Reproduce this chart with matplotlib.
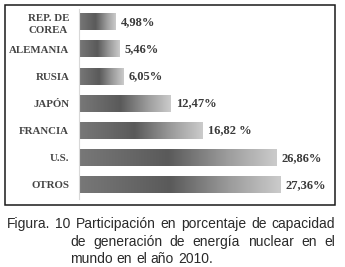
import matplotlib.pyplot as plt
import numpy as np
from matplotlib.colors import LinearSegmentedColormap
from matplotlib.patches import Rectangle

# Data (top to bottom)
countries = ['REP. DE\nCOREA', 'ALEMANIA', 'RUSIA', 'JAPÓN', 'FRANCIA', 'U.S.', 'OTROS']
shares = [4.98, 5.46, 6.05, 12.47, 16.82, 26.86, 27.36]
share_labels = ['4,98%', '5,46%', '6,05%', '12,47%', '16,82 %', '26,86%', '27,36%']

caption_lines = ['Figura. 10 Participación en porcentaje de capacidad',
                 'de generación de energía nuclear en el',
                 'mundo en el año 2010.']

W, H = 345, 267
fig = plt.figure(figsize=(W / 100, H / 100), dpi=100)

# axes placed in pixel terms of the reference
ax = fig.add_axes([79 / W, 1 - 198.5 / H, 256 / W, 190 / H])

# gray metallic gradient for bars
cmap = LinearSegmentedColormap.from_list(
    'bar', [(0, '#787878'), (0.45, '#5a5a5a'), (0.75, '#9c9c9c'), (1, '#cbcbcb')])
grad = np.linspace(0, 1, 256).reshape(1, -1)

ypos = np.arange(len(countries))
bar_h = 0.6
for y, v, lab in zip(ypos, shares, share_labels):
    ax.imshow(grad, cmap=cmap, aspect='auto', interpolation='bilinear',
              extent=(0, v, y + bar_h / 2, y - bar_h / 2), zorder=2)
    ax.annotate(lab, xy=(v, y), xytext=(4, 0), textcoords='offset points',
                ha='left', va='center', fontsize=9, fontweight='bold',
                family='Liberation Serif', color='#3a3a3a')

ax.set_xlim(0, 256 / 7.35)
ax.set_ylim(len(countries) - 0.5, -0.5)
ax.set_yticks(ypos)
ax.set_yticklabels(countries, fontsize=7.8, fontweight='bold',
                   family='Liberation Serif', color='#444444', linespacing=1.35)
ax.tick_params(axis='y', length=0, pad=7)
for lbl in ax.get_yticklabels():
    lbl.set_horizontalalignment('right')
    lbl.set_multialignment('center')
ax.set_xticks([])
for s in ['top', 'right', 'bottom']:
    ax.spines[s].set_visible(False)
ax.spines['left'].set_color('#d8d8d8')
ax.spines['left'].set_linewidth(0.8)

# outer frame around the chart
fig.patches.append(Rectangle((5 / W, 1 - 205 / H), 330 / W, 200 / H,
                             transform=fig.transFigure, fill=False,
                             edgecolor='#1a1a1a', linewidth=1.1))

# justified caption
fig.canvas.draw()
renderer = fig.canvas.get_renderer()
cap_size = 10


def justified(line, x0, x1, ypix, justify=True):
    words = line.split(' ')
    texts = [fig.text(0, 1 - ypix / H, w, fontsize=cap_size, family='Liberation Sans',
                      color='#2a2a2a', va='center') for w in words]
    widths = [t.get_window_extent(renderer).width for t in texts]
    if justify and len(words) > 1:
        gap = (x1 - x0 - sum(widths)) / (len(words) - 1)
    else:
        gap = renderer.points_to_pixels(cap_size) * 0.28
    x = x0
    for t, w in zip(texts, widths):
        t.set_x(x / W)
        x += w + gap


justified(caption_lines[0], 7, 335, 224)
justified(caption_lines[1], 70, 335, 242)
justified(caption_lines[2], 70, 335, 259, justify=False)

fig.savefig('out.png', dpi=100)
